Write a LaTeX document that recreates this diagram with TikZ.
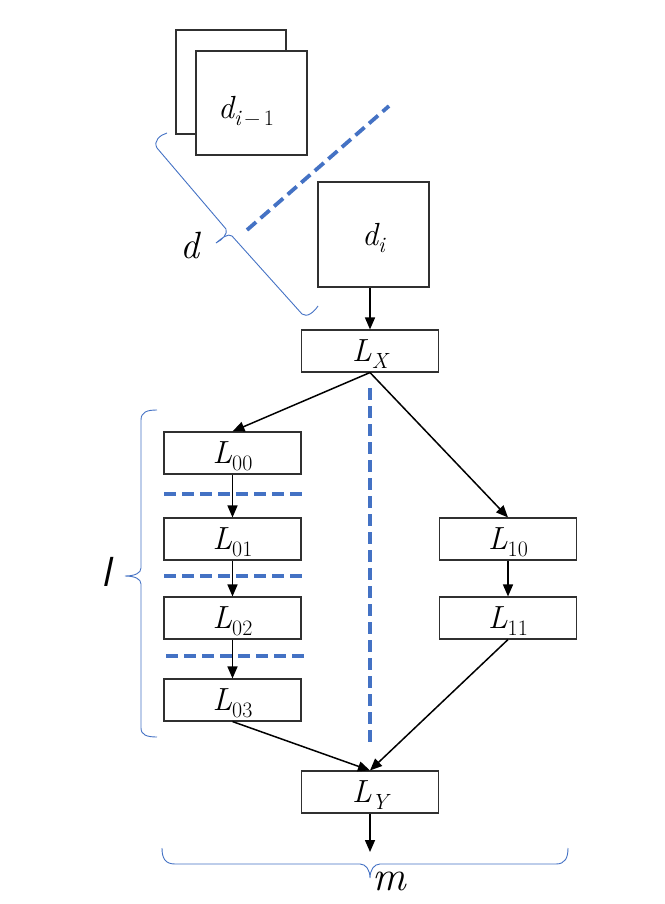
\documentclass[tikz,border=0pt]{standalone}
\usetikzlibrary{arrows.meta}
\definecolor{bl}{HTML}{4472C4}
\definecolor{boxc}{HTML}{303030}
\newcommand\mysub[2]{{\itshape #1}\raisebox{-0.2em}{\fontsize{22}{22}\selectfont #2}}
\tikzset{
  box/.style={draw=boxc, line width=1.1pt, fill=white, minimum width=137pt, minimum height=42pt, inner sep=0pt, text depth=0pt, font=\fontsize{32}{36}\selectfont},
  dbox/.style={draw=boxc, line width=1.1pt, fill=white, inner sep=0pt, text depth=0pt, font=\fontsize{32}{36}\selectfont},
  arr/.style={-{Triangle[length=12pt,width=10pt]}, line width=1.5pt},
  bdash/.style={draw=bl, line width=3.8pt, dash pattern=on 12pt off 6pt},
  brc/.style={draw=bl, line width=0.9pt},
  lab/.style={font=\fontsize{38}{40}\selectfont\itshape, inner sep=0pt}
}
\begin{document}
\begin{tikzpicture}[x=1pt,y=-1pt]
\useasboundingbox (0,0) rectangle (664,904);
% d boxes
\node[dbox, minimum width=110pt, minimum height=104pt] (dback) at (231,82) {};
\node[dbox, minimum width=111pt, minimum height=104pt] (dfront) at (251.5,103) {};
\node[font=\fontsize{32}{36}\selectfont, inner sep=0pt] (dfronttxt) at (246,111) {\mysub{d}{{\itshape i}\,−\,1}};
\node[dbox, minimum width=111pt, minimum height=105pt] (di) at (373.5,234.5) {\mysub{d}{\itshape i}};
% diagonal dashed line
\draw[bdash] (247,230) -- (389,106);
% brace d
\draw[brc] (167,133) .. controls (160,135) and (153,141) .. (157,148) -- (226,229) .. controls (228,234) and (222,240) .. (216,243)
  .. controls (222,238) and (228,233) .. (232,236) -- (302,314) .. controls (307,318) and (314,312) .. (318,306);
\node[lab] (dlab) at (190,246) {d};
% layer boxes
\node[box] (LX) at (370,351) {\mysub{L}{\itshape X}};
\node[box] (L00) at (232.5,453) {\mysub{L}{00}};
\node[box] (L01) at (232.5,539) {\mysub{L}{01}};
\node[box] (L02) at (232.5,618) {\mysub{L}{02}};
\node[box] (L03) at (232.5,700) {\mysub{L}{03}};
\node[box] (L10) at (508,539) {\mysub{L}{10}};
\node[box] (L11) at (508,618) {\mysub{L}{11}};
\node[box] (LY) at (370,792) {\mysub{L}{\itshape Y}};
\coordinate (out) at (370,852);
% arrows
\draw[arr] (di.south -| LX.north) -- (LX.north);
\draw[arr] (LX.south) -- (L00.north);
\draw[arr] (LX.south) -- (L10.north);
\draw[arr] (L00) -- (L01);
\draw[arr] (L01) -- (L02);
\draw[arr] (L02) -- (L03);
\draw[arr] (L10) -- (L11);
\draw[arr] (L03.south) -- (LY.north);
\draw[arr] (L11.south) -- (LY.north);
\draw[arr] (LY.south) -- (out);
% dashed separators
\draw[bdash] (164,494) -- (303,494);
\draw[bdash] (164,576) -- (303,576);
\draw[bdash] (166,656) -- (305,656);
\draw[bdash] (370,388) -- (370,746);
% brace l
\draw[brc] (157,410) .. controls (147,410) and (141,412) .. (141,420) -- (141,568) .. controls (141,573) and (135,576) .. (125,576)
  .. controls (135,576) and (141,579) .. (141,584) -- (141,728) .. controls (141,735) and (147,737) .. (157,737);
\node[lab, font=\fontsize{42}{44}\selectfont\sffamily\itshape] (llab) at (106,572) {l};
% brace m
\draw[brc] (162,848) .. controls (162,858) and (165,864) .. (175,864) -- (360,864) .. controls (366,864) and (370,870) .. (370,878)
  .. controls (370,870) and (374,864) .. (380,864) -- (556,864) .. controls (565,864) and (568,858) .. (568,848);
\node[lab, font=\fontsize{42}{44}\selectfont\itshape] (mlab) at (389,881) {m};
\end{tikzpicture}
\end{document}
